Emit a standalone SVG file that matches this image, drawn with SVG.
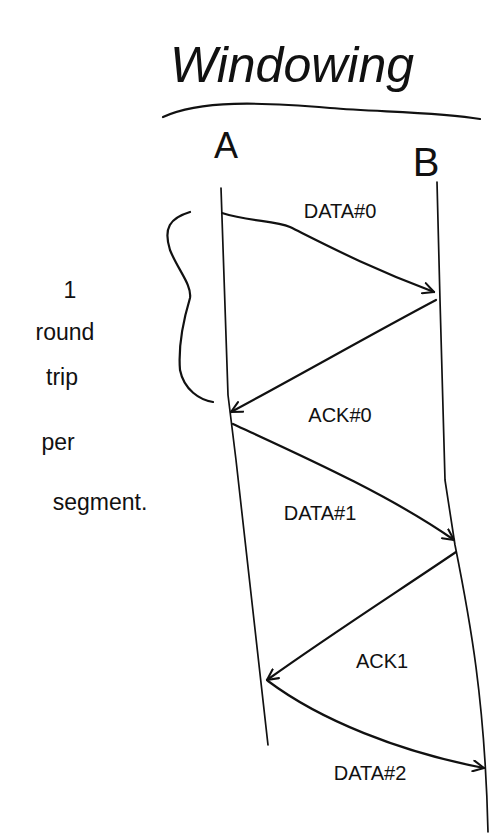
<svg xmlns="http://www.w3.org/2000/svg" width="492" height="839" viewBox="0 0 492 839">
<style>
.ln{fill:none;stroke:#111;stroke-width:2.2;stroke-linecap:round;stroke-linejoin:round}
.th{stroke-width:1.7}
.t{font-family:"Liberation Sans","DejaVu Sans",sans-serif;fill:#111}
.lbl{font-size:20px}
.side{font-size:23px}
</style>
<defs>
<marker id="ah" viewBox="0 0 12 12" refX="11" refY="6" markerWidth="13" markerHeight="13" markerUnits="userSpaceOnUse" orient="auto">
<path d="M1,1 L11,6 L1,11" fill="none" stroke="#111" stroke-width="1.9" stroke-linecap="round" stroke-linejoin="round"/>
</marker>
</defs>
<rect width="492" height="839" fill="#fff"/>
<g id="title">
<text class="t" x="292" y="82" font-size="50" text-anchor="middle" font-style="italic">Windowing</text>
<path class="ln" d="M163,117 C200,100 260,102 330,108 C380,112 440,112 480,119"/>
</g>
<g id="nodeA">
<text class="t" x="226" y="158" font-size="36" text-anchor="middle">A</text>
<path class="ln th" d="M221,188 L228,395 L236,460 L268,745"/>
</g>
<g id="nodeB">
<text class="t" x="426" y="176" font-size="40" text-anchor="middle">B</text>
<path class="ln th" d="M437,182 L440,300 L445,480 L455,545 C470,620 485,700 488,832"/>
</g>
<g id="brace">
<path class="ln" d="M190,212 C170,218 163,228 170,250 C178,270 192,285 190,298 C184,318 178,345 180,370 C184,390 200,400 213,402"/>
<text class="t side" x="70" y="298" text-anchor="middle">1</text>
<text class="t side" x="65" y="340" text-anchor="middle">round</text>
<text class="t side" x="62" y="385" text-anchor="middle">trip</text>
<text class="t side" x="58" y="450" text-anchor="middle">per</text>
<text class="t side" x="100" y="510" text-anchor="middle">segment.</text>
</g>
<g id="connectors">
<path class="ln" marker-end="url(#ah)" d="M222,213 C250,222 275,220 290,227 C330,247 370,268 434,292"/>
<path class="ln" marker-end="url(#ah)" d="M436,300 C370,335 300,375 231,412"/>
<path class="ln" marker-end="url(#ah)" d="M233,424 C300,455 390,495 454,540"/>
<path class="ln" marker-end="url(#ah)" d="M456,552 C400,590 330,635 267,680"/>
<path class="ln" marker-end="url(#ah)" d="M268,681 C320,720 400,752 484,768"/>
</g>
<g id="labels">
<text class="t lbl" x="340" y="218" text-anchor="middle">DATA#0</text>
<text class="t lbl" x="340" y="422" text-anchor="middle">ACK#0</text>
<text class="t lbl" x="320" y="520" text-anchor="middle">DATA#1</text>
<text class="t lbl" x="382" y="668" text-anchor="middle">ACK1</text>
<text class="t lbl" x="370" y="780" text-anchor="middle">DATA#2</text>
</g>
</svg>
